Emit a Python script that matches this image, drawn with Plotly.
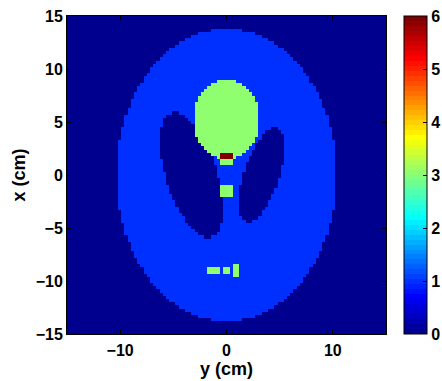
import numpy as np
import plotly.graph_objects as go

# Phantom described by ellipses (horizontal "y" axis, vertical "x" axis), in cm
ell_center_h = [0.0, 3.3, -3.3, 0.0, 0.0, 0.0, -1.2, 0.0, 0.9]
ell_center_v = [0.0, 0.0, 0.0, 5.25, 1.5, -1.5, -9.075, -9.09, -9.075]
ell_semi_h = [10.35, 1.65, 2.4, 3.15, 0.69, 0.69, 0.69, 0.345, 0.345]
ell_semi_v = [13.8, 4.65, 6.15, 3.75, 0.69, 0.69, 0.345, 0.345, 0.69]
ell_angle_deg = [0, -18, 18, 0, 0, 0, 0, 0, 0]
ell_value = [1, 0, 0, 3, 3, 3, 3, 3, 3]
overlap_pair = (3, 4)      # big green ellipse with the small upper one
overlap_value = 6

n_cells = 100
extent = 15.0
cell = 2 * extent / n_cells
coords = -extent + cell / 2 + cell * np.arange(n_cells)

H, V = np.meshgrid(coords, coords)
z = np.zeros_like(H)
masks = []
for ch, cv, a, b, ang, val in zip(ell_center_h, ell_center_v, ell_semi_h,
                                  ell_semi_v, ell_angle_deg, ell_value):
    p = np.deg2rad(ang)
    dx, dy = H - ch, V - cv
    u = dx * np.cos(p) + dy * np.sin(p)
    w = -dx * np.sin(p) + dy * np.cos(p)
    m = (u / a) ** 2 + (w / b) ** 2 <= 1
    masks.append(m)
    z[m] = val
z[masks[overlap_pair[0]] & masks[overlap_pair[1]]] = overlap_value

# MATLAB jet(64) as stepped colorscale
def jet64(i):
    if i <= 8:
        r, g, b = 0, 0, (i + 8) / 16
    elif i <= 24:
        r, g, b = 0, (i - 8) / 16, 1
    elif i <= 40:
        r, g, b = (i - 24) / 16, 1, (40 - i) / 16
    elif i <= 56:
        r, g, b = 1, (56 - i) / 16, 0
    else:
        r, g, b = (72 - i) / 16, 0, 0
    return f"rgb({round(r*255)},{round(g*255)},{round(b*255)})"

cs = []
for k in range(64):
    c = jet64(k + 1)
    cs.append([k / 64, c])
    cs.append([(k + 1) / 64 - (1e-9 if k < 63 else 0), c])

fam = "Liberation Sans, Arial, sans-serif"
tick_font = dict(family=fam, size=16, color="black", weight="bold")
title_font = dict(family=fam, size=18, color="black", weight="bold")

plot_l, plot_r, plot_t, plot_b = 67, 386, 16, 334
fig_w, fig_h = 442, 381
plot_w = plot_r - plot_l

fig = go.Figure(go.Heatmap(
    x=coords, y=coords, z=z, zmin=0, zmax=6, colorscale=cs, zsmooth=False,
    colorbar=dict(
        x=(404 - plot_l) / plot_w, xanchor="left", xpad=0, y=0.5, yanchor="middle",
        len=1, lenmode="fraction", thickness=23, thicknessmode="pixels",
        outlinewidth=1, outlinecolor="black",
        tickmode="array", tickvals=[0, 1, 2, 3, 4, 5, 6],
        ticks="inside", ticklen=4, tickcolor="black",
        tickfont=tick_font, ypad=0, ticklabeloverflow="allow",
    ),
))

axis_common = dict(
    showline=True, linecolor="black", linewidth=1, mirror="ticks",
    ticks="inside", ticklen=4, tickcolor="black", showgrid=False,
    zeroline=False, tickfont=tick_font, automargin=False, ticklabeloverflow="allow",
)
fig.update_xaxes(range=[-15, 15], tickvals=[-10, 0, 10], ticklabelstandoff=2,
                 title=dict(text="y (cm)", font=title_font, standoff=4), **axis_common)
fig.update_yaxes(range=[-15, 15], tickvals=[-15, -10, -5, 0, 5, 10, 15],
                 title=dict(text="x (cm)", font=title_font, standoff=5), **axis_common)

fig.update_layout(
    width=fig_w, height=fig_h,
    margin=dict(l=plot_l, r=fig_w - plot_r, t=plot_t, b=fig_h - plot_b, autoexpand=False),
    paper_bgcolor="white", plot_bgcolor="white",
    font=tick_font,
)
fig.write_html(
    "out.html",
    config={"displayModeBar": False},
    post_script="document.body.style.margin='0px';document.body.style.overflow='hidden';",
)
